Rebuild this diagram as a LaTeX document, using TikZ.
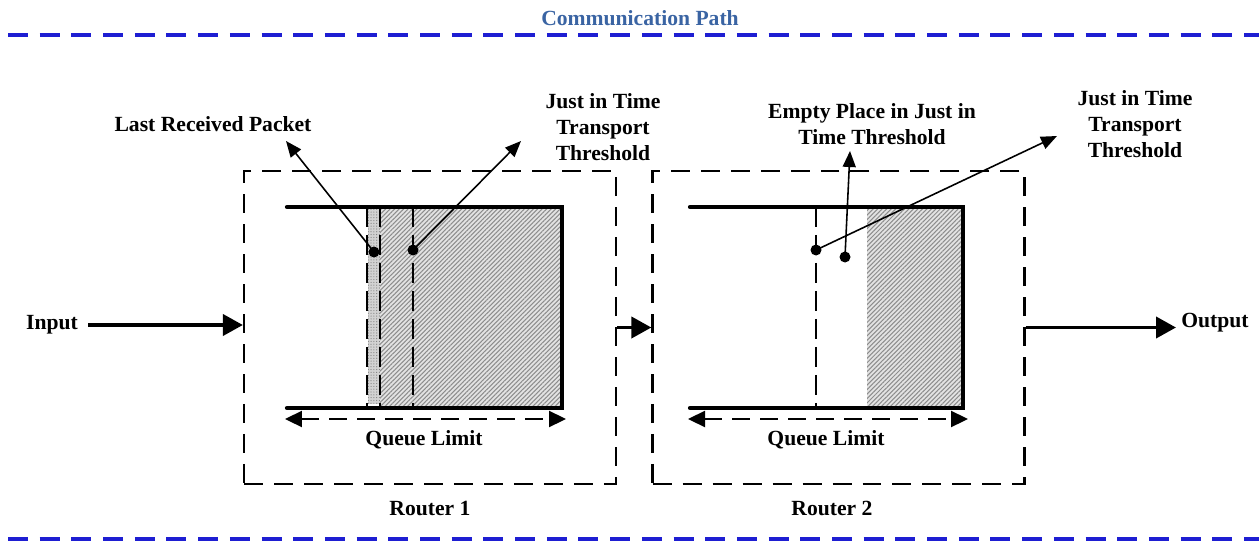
\documentclass[tikz,border=0pt]{standalone}
\usepackage{fontspec}
\setmainfont{Liberation Serif}
\usetikzlibrary{arrows.meta,patterns.meta}
\definecolor{titleblue}{HTML}{3A64A3}
\definecolor{pathblue}{HTML}{1E1ED2}
\begin{document}
\begin{tikzpicture}[x=0.02cm,y=-0.02cm,
  lbl/.style={font=\bfseries\fontsize{12.3}{14.8}\selectfont, align=center, inner sep=0pt},
  pathline/.style={draw=pathblue, line width=2.2pt, dash pattern=on 0.4cm off 0.234cm},
  routerbox/.style={draw, line width=1.3pt, dash pattern=on 0.38cm off 0.22cm, minimum width=7.44cm, minimum height=6.26cm, inner sep=0pt},
  queue/.style={line width=2.4pt, line join=miter, line cap=round},
  divider/.style={line width=1.6pt, dash pattern=on 0.4cm off 0.16cm},
  hatchbg/.style={fill=gray!22},
  hatch/.style={pattern={Lines[angle=45,distance=1.8pt,line width=0.6pt]}, pattern color=gray!90},
  dot/.style={circle, fill, inner sep=0pt, minimum size=0.22cm},
  pointer/.style={line width=0.9pt, -{Triangle[length=0.32cm,width=0.26cm]}},
  flow/.style={line width=2.2pt, -{Triangle[length=0.4cm,width=0.42cm]}},
  limit/.style={line width=1.3pt, dash pattern=on 0.36cm off 0.2cm, {Triangle[length=0.34cm,width=0.32cm]}-{Triangle[length=0.34cm,width=0.32cm]}},
]
\useasboundingbox (0,0) rectangle (1259,541);

% communication path
\node[lbl, text=titleblue] (title) at (640,18) {Communication Path};
\coordinate (ptl) at (8,35);  \coordinate (ptr) at (1259,35);
\coordinate (pbl) at (8,539); \coordinate (pbr) at (1259,539);
\draw[pathline] (ptl) -- (ptr);
\draw[pathline] (pbl) -- (pbr);

% routers
\node[routerbox] (r1) at (430,327.5) {};
\node[routerbox] (r2) at (838.5,327.5) {};
\node[lbl] (r1lab) at (430,508) {Router 1};
\node[lbl] (r2lab) at (832,508) {Router 2};

% input / output
\node[lbl] (in) at (52,325) {Input};
\node[lbl] (out) at (1215,323) {Output};
\draw[flow] ([xshift=0.2cm]in.east) -- (in.east -| r1.west);
\draw[flow] (r1.east) -- (r2.west);
\draw[flow] (r2.east) -- ([xshift=-0.1cm]out.west |- r2.east);

% queue 1
\fill[gray!35] (368,207) rectangle (380,404);
\fill[pattern={Dots[distance=1.6pt,radius=0.35pt]}, pattern color=gray] (368,207) rectangle (380,404);
\fill[hatchbg] (380,207) rectangle (562,408);
\fill[hatch] (380,207) rectangle (562,408);
\draw[queue] (287,207) -- (562,207) -- (562,408) -- (287,408);
\draw[divider] (367,207) -- (367,408);
\draw[divider] (380,207) -- (380,408);
\draw[divider] (413,207) -- (413,408);
\node[dot] (d1) at (374,252) {};
\node[dot] (d2) at (413,250) {};
\node[lbl] (l1) at (213,124) {Last Received Packet};
\node[lbl] (l2) at (603,127) {Just in Time\\Transport\\Threshold};
\coordinate (t1) at (286,141);
\coordinate (t2) at (521,141);
\draw[pointer] (d1.center) -- (t1);
\draw[pointer] (d2.center) -- (t2);
\coordinate (q1a) at (285,419); \coordinate (q1b) at (566,419);
\draw[limit] (q1a) -- (q1b);
\node[lbl] (q1lab) at (424,440) {Queue Limit};

% queue 2
\fill[hatchbg] (867,207) rectangle (963,408);
\fill[hatch] (867,207) rectangle (963,408);
\draw[queue] (690,207) -- (963,207) -- (963,408) -- (690,408);
\draw[divider] (816,207) -- (816,408);
\node[dot] (d3) at (816,250) {};
\node[dot] (d4) at (845,257) {};
\node[lbl] (l3) at (872,124.5) {Empty Place in Just in\\Time Threshold};
\node[lbl] (l4) at (1135,124) {Just in Time\\Transport\\Threshold};
\coordinate (t3) at (850,151);
\coordinate (t4) at (1057,136);
\draw[pointer] (d4.center) -- (t3);
\draw[pointer] (d3.center) -- (t4);
\coordinate (q2a) at (688,419); \coordinate (q2b) at (968,419);
\draw[limit] (q2a) -- (q2b);
\node[lbl] (q2lab) at (826,440) {Queue Limit};
\end{tikzpicture}
\end{document}
